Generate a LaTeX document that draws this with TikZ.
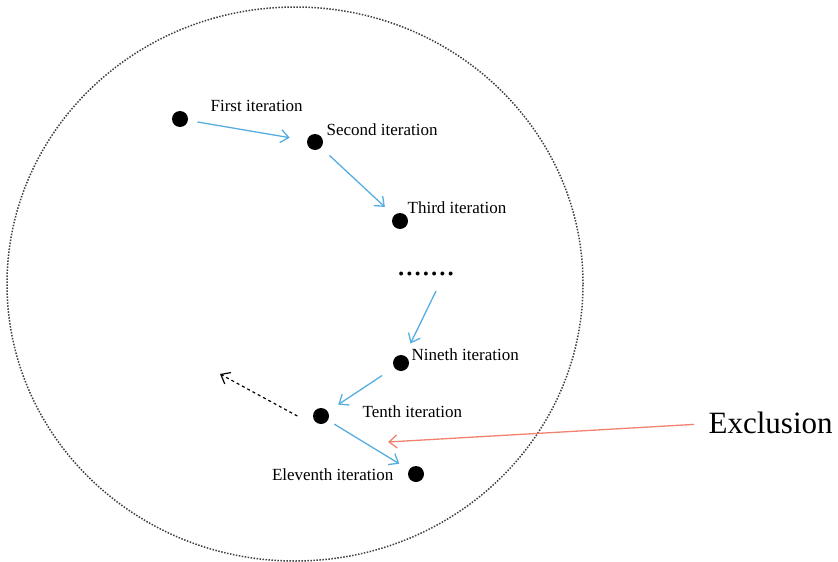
\documentclass[tikz,border=0pt]{standalone}
\usepackage{fontspec}
\setmainfont{Liberation Serif}
\usetikzlibrary{arrows.meta}
\definecolor{moveblue}{RGB}{86,174,224}
\definecolor{exclred}{RGB}{240,130,110}

\begin{document}
\begin{tikzpicture}[x=1pt,y=-1pt,->,>={Straight Barb[length=8pt,width=13pt]},
  line width=1.3pt,
  iter node/.style={circle,fill=black,inner sep=0pt,minimum size=16pt},
  iter label/.style={anchor=base west,inner sep=0pt,
    font=\fontsize{17}{20}\selectfont},
  move arrow/.style={moveblue}]
  \useasboundingbox (0,0) rectangle (838,562);

  % search region
  \draw[-,line width=1.5pt,dash pattern=on 1.5pt off 1.5pt,black!75] (295,284)
    ellipse [x radius=288pt,y radius=277pt];

  % iterations
  \node[iter node] (it1) at (180,119) {};
  \node[iter node] (it2) at (315,142) {};
  \node[iter node] (it3) at (400,221) {};
  \node[iter node] (it9) at (401,363) {};
  \node[iter node] (it10) at (321,416) {};
  \node[iter node] (it11) at (416,474) {};

  \node[iter label] (l1) at (210,111) {First iteration};
  \node[iter label] (l2) at (326,135) {Second iteration};
  \node[iter label] (l3) at (407,213) {Third iteration};
  \node[iter label] (l9) at (411,360) {Nineth iteration};
  \node[iter label] (l10) at (362,417) {Tenth iteration};
  \node[iter label,anchor=base east] (l11) at (394,480) {Eleventh iteration};
  \node[anchor=base,inner sep=0pt,font=\fontsize{33}{33}\selectfont]
    (dots) at (426,275) {.......};
  \node[anchor=base west,inner sep=0pt,font=\fontsize{31}{36}\selectfont]
    (excl) at (708,433) {Exclusion};

  \coordinate (gap) at (436,291);
  \coordinate (escape) at (220,374);
  \coordinate (hit) at (388,442);

  \path[move arrow]
    (it1) edge[shorten <=9pt,shorten >=17pt] (it2)
    (it2) edge[shorten <=11pt,shorten >=12pt] (it3)
    (gap) edge[shorten >=13pt] (it9)
    (it9) edge[shorten <=14pt,shorten >=12pt] (it10)
    (it10) edge[shorten <=7pt,shorten >=11pt] (it11);

  \draw[dashed,line width=1.2pt] ([xshift=-15pt]it10.west) -- (escape);
  \draw[exclred] ([xshift=-14pt,yshift=-2pt]excl.west) -- (hit);
\end{tikzpicture}
\end{document}
